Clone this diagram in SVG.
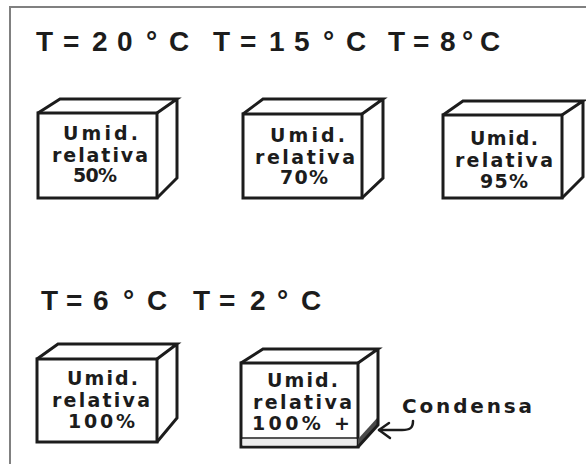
<svg xmlns="http://www.w3.org/2000/svg" width="586" height="464" viewBox="0 0 586 464">
<style>
.frame{fill:none;stroke:#808080;stroke-width:2}
.edge{fill:none;stroke:#1c1c1c;stroke-width:3;stroke-linejoin:miter}
.face{fill:#ffffff}
.hd{font-family:"Liberation Sans",Arial,sans-serif;font-weight:bold;font-size:28px;fill:#1c1c1c}
.lb{font-family:"DejaVu Sans","Liberation Sans",sans-serif;font-weight:bold;font-size:19px;fill:#1c1c1c}
.conn{fill:none;stroke:#1c1c1c;stroke-width:2.5;stroke-linecap:round;stroke-linejoin:round}
</style>
<rect width="586" height="464" fill="#ffffff"/>
<path class="frame" d="M10,464 L10,7 L586,7"/>

<g id="title-top">
<text class="hd" x="36 55 63 82 92 117 133 146 160 169" y="51">T = 20 ° C</text>
<text class="hd" x="213 232 240 259 269 294 310 323 337 346" y="51">T = 15 ° C</text>
<text class="hd" x="388 406 413 432 440 455 462 474 480" y="51">T = 8 ° C</text>
</g>
<g id="title-bottom">
<text class="hd" x="41 59 66 84 93 110 123 136 147" y="310">T = 6 ° C</text>
<text class="hd" x="193 211 219 237 250 267 277 290 301" y="310">T = 2 ° C</text>
</g>

<g id="box1">
<rect class="face edge" x="38" y="113" width="119" height="85"/>
<path class="edge" d="M38,113 L60,99 L177,99 L157,113 M177,99 L177,178 L157,198"/>
<text class="lb" x="63" y="140" textLength="75" lengthAdjust="spacing">Umid.</text>
<text class="lb" x="52" y="162" textLength="96" lengthAdjust="spacing">relativa</text>
<text class="lb" x="73" y="182" textLength="44" lengthAdjust="spacing">50%</text>
</g>

<g id="box2">
<rect class="face edge" x="243" y="114" width="119" height="84"/>
<path class="edge" d="M243,114 L263,99 L383,99 L362,114 M383,99 L383,178 L362,198"/>
<text class="lb" x="270" y="142" textLength="75" lengthAdjust="spacing">Umid.</text>
<text class="lb" x="255" y="164" textLength="100" lengthAdjust="spacing">relativa</text>
<text class="lb" x="280" y="184" textLength="48" lengthAdjust="spacing">70%</text>
</g>

<g id="box3">
<rect class="face edge" x="443" y="115" width="119" height="83"/>
<path class="edge" d="M443,115 L463,101 L583,101 L562,115 M583,101 L583,177 L562,198"/>
<text class="lb" x="470" y="145" textLength="68" lengthAdjust="spacing">Umid.</text>
<text class="lb" x="455" y="167" textLength="98" lengthAdjust="spacing">relativa</text>
<text class="lb" x="480" y="188" textLength="48" lengthAdjust="spacing">95%</text>
</g>

<g id="box4">
<rect class="face edge" x="37" y="359" width="120" height="83"/>
<path class="edge" d="M37,359 L58,344 L177,344 L157,359 M177,344 L177,418 L157,442"/>
<text class="lb" x="67" y="385" textLength="71" lengthAdjust="spacing">Umid.</text>
<text class="lb" x="52" y="407" textLength="98" lengthAdjust="spacing">relativa</text>
<text class="lb" x="68" y="428" textLength="67" lengthAdjust="spacing">100%</text>
</g>

<g id="box5">
<rect class="face edge" x="241" y="363" width="117" height="84"/>
<rect x="242.5" y="439" width="114" height="6.5" fill="#ececec"/>
<line x1="241" y1="438" x2="358" y2="438" stroke="#1c1c1c" stroke-width="1.5"/>
<polygon points="358,447 378,425 378,417 358,439" fill="#4a4a4a"/>
<path class="edge" d="M241,363 L263,349 L378,349 L358,363 M378,349 L378,425 L358,447"/>
<text class="lb" x="267" y="387" textLength="71" lengthAdjust="spacing">Umid.</text>
<text class="lb" x="253" y="409" textLength="99" lengthAdjust="spacing">relativa</text>
<text class="lb" x="252" y="430" textLength="98" lengthAdjust="spacing">100% +</text>
</g>

<g id="condensa">
<text class="lb" x="402" y="413" textLength="130" lengthAdjust="spacing" style="font-size:20px">Condensa</text>
</g>

<g id="connectors">
<path class="conn" d="M413,421 C413,428 410,430 402,430 L379,430"/>
<path class="conn" d="M389,423 L379,430 L390,438"/>
</g>
</svg>
